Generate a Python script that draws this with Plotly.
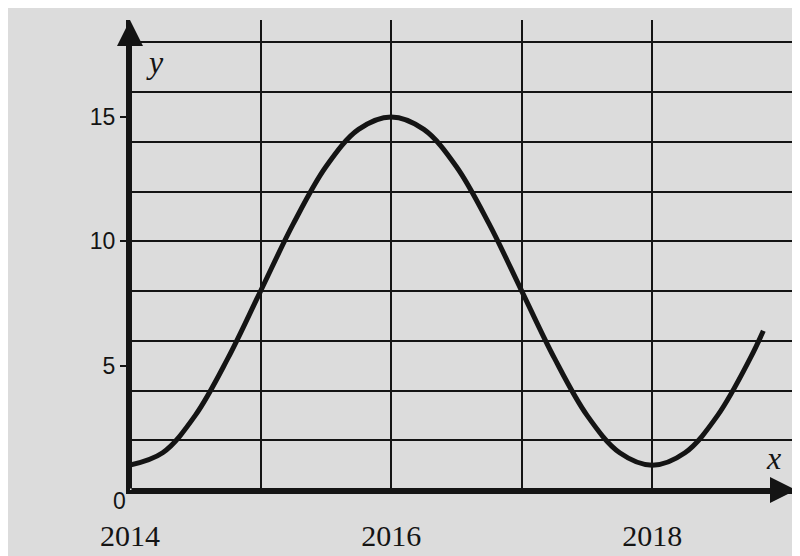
import plotly.graph_objects as go

# Values
years = [2014, 2014.25, 2014.5, 2014.75, 2015, 2015.25, 2015.5, 2015.75, 2016,
         2016.25, 2016.5, 2016.75, 2017, 2017.25, 2017.5, 2017.75, 2018,
         2018.25, 2018.5, 2018.75, 2018.85]
y_vals = [1.0, 1.5, 3.0, 5.3, 8.0, 10.7, 13.0, 14.5, 15.0,
          14.5, 13.0, 10.7, 8.0, 5.3, 3.0, 1.5, 1.0,
          1.5, 3.0, 5.3, 6.4]

x_tick_vals = [2014, 2016, 2018]
x_tick_text = ["2014", "2016", "2018"]
x_minor_grid = [2015, 2016, 2017, 2018]
y_tick_vals = [5, 10, 15]
y_tick_text = ["5", "10", "15"]
y_minor_grid = [2, 4, 6, 8, 10, 12, 14, 16, 18]

X_MIN, X_MAX = 2014, 2019.1
Y_MIN, Y_MAX = 0, 18.9

PAPER = "#dcdcdc"
INK = "#141414"

fig = go.Figure()
fig.add_trace(go.Scatter(
    x=years, y=y_vals, mode="lines",
    line=dict(color=INK, width=5, shape="spline", smoothing=1.0),
    hoverinfo="skip", showlegend=False,
))

fig.update_layout(
    width=800, height=556,
    margin=dict(l=122, r=12, t=12, b=58),
    paper_bgcolor=PAPER, plot_bgcolor=PAPER,
    showlegend=False,
    xaxis=dict(
        range=[X_MIN, X_MAX], showgrid=False, zeroline=False,
        showline=True, linecolor=INK, linewidth=4,
        tickmode="array", tickvals=x_tick_vals, ticktext=x_tick_text,
        ticks="", ticklabelstandoff=16,
        tickfont=dict(family="Liberation Serif", size=30, color=INK),
        minor=dict(tickvals=x_minor_grid, showgrid=True,
                   gridcolor=INK, gridwidth=2, ticks=""),
    ),
    yaxis=dict(
        range=[Y_MIN, Y_MAX], showgrid=False, zeroline=False,
        showline=True, linecolor=INK, linewidth=4,
        tickmode="array", tickvals=y_tick_vals, ticktext=y_tick_text,
        ticks="outside", ticklen=6, tickwidth=2, tickcolor=INK,
        tickfont=dict(family="Liberation Sans", size=23, color=INK),
        minor=dict(tickvals=y_minor_grid, showgrid=True,
                   gridcolor=INK, gridwidth=2, ticks=""),
    ),
)

# Axis arrows
fig.add_annotation(x=X_MAX, y=0, ax=X_MIN, ay=0, xref="x", yref="y",
                   axref="x", ayref="y", text="", showarrow=True,
                   arrowhead=2, arrowsize=1.3, arrowwidth=4, arrowcolor=INK)
fig.add_annotation(x=X_MIN, y=Y_MAX, ax=X_MIN, ay=0, xref="x", yref="y",
                   axref="x", ayref="y", text="", showarrow=True,
                   arrowhead=2, arrowsize=1.3, arrowwidth=4, arrowcolor=INK)

# Axis names and origin label
fig.add_annotation(x=X_MIN, y=17.2, xref="x", yref="y", text="<i>y</i>",
                   showarrow=False, xanchor="left", yanchor="middle", xshift=14,
                   font=dict(family="Liberation Serif", size=32, color=INK))
fig.add_annotation(x=2018.93, y=0, xref="x", yref="y", text="<i>x</i>",
                   showarrow=False, xanchor="center", yanchor="bottom", yshift=12,
                   font=dict(family="Liberation Serif", size=32, color=INK))
fig.add_annotation(x=X_MIN, y=0, xref="x", yref="y", text="0",
                   showarrow=False, xanchor="right", yanchor="top",
                   xshift=-2, yshift=4,
                   font=dict(family="Liberation Sans", size=23, color=INK))

fig.write_html("out.html")
